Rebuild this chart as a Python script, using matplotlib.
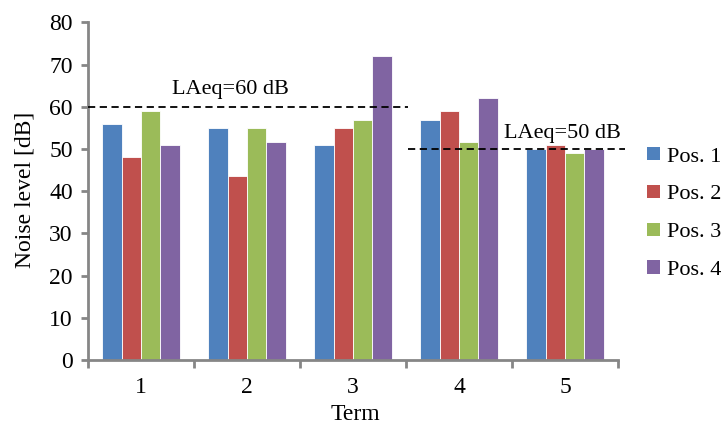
import matplotlib
matplotlib.use("Agg")
import matplotlib.pyplot as plt
import numpy as np
from matplotlib.patches import Patch

terms = ["1", "2", "3", "4", "5"]
series = ["Pos. 1", "Pos. 2", "Pos. 3", "Pos. 4"]
pos1 = [56, 55, 51, 57, 50]
pos2 = [48, 43.7, 55, 59, 51]
pos3 = [59, 55, 57, 51.7, 49]
pos4 = [51, 51.7, 72, 62, 50]
colors = ["#4F81BD", "#C0504D", "#9BBB59", "#8064A2"]
limit_labels = ["LAeq=60 dB", "LAeq=50 dB"]
limit_values = [60, 50]

plt.rcParams['font.family'] = ['Liberation Serif', 'DejaVu Serif']

fig = plt.figure(figsize=(7.25, 4.24), dpi=100)
ax = fig.add_axes([0.1214, 0.151, 0.731, 0.796])

x = np.arange(len(terms))
w = 0.182
data = [pos1, pos2, pos3, pos4]
for i, (vals, c) in enumerate(zip(data, colors)):
    ax.bar(x + (i - 1.5) * w, vals, width=w, color=c, edgecolor="white", linewidth=0.6, zorder=2)

# limit lines
ax.plot([-0.5, 2.52], [limit_values[0]] * 2, color="black", linestyle=(0, (4, 2.5)), linewidth=1.3, zorder=3, clip_on=False)
ax.plot([2.52, 4.57], [limit_values[1]] * 2, color="black", linestyle=(0, (4, 2.5)), linewidth=1.3, zorder=3, clip_on=False)
ax.text(0.84, 64.2, limit_labels[0], ha="center", va="center", fontsize=16)
ax.text(3.98, 53.8, limit_labels[1], ha="center", va="center", fontsize=16)

ax.set_xlim(-0.5, 4.5)
ax.set_ylim(0, 80)
ax.set_yticks(np.arange(0, 81, 10))
ax.set_xticks(np.arange(-0.5, 4.6, 1))
ax.set_xticklabels([])
ax.set_xticks(x, minor=True)
ax.set_xticklabels(terms, minor=True)
ax.tick_params(axis="x", which="minor", length=0, pad=12, labelsize=17)
ax.tick_params(axis="x", which="major", length=6, width=2, color="#868686", direction="out")
ax.tick_params(axis="y", length=5, width=2, color="#868686", direction="out", labelsize=17, pad=6)

for s in ["top", "right"]:
    ax.spines[s].set_visible(False)
for s in ["left", "bottom"]:
    ax.spines[s].set_color("#868686")
    ax.spines[s].set_linewidth(2)

fig.text(25 / 725, 1 - 190 / 424, "Noise level [dB]", rotation=90, ha="center", va="center", fontsize=17)
fig.text(355 / 725, 1 - 414 / 424, "Term", ha="center", va="center", fontsize=17)

handles = [Patch(facecolor=c, edgecolor="none") for c in colors]
leg = fig.legend(handles, series, loc="center left", bbox_to_anchor=(0.893, 0.4965), frameon=False,
                 fontsize=16, handlelength=0.55, handleheight=0.55, handletextpad=0.35, labelspacing=0.82,
                 borderpad=0, borderaxespad=0)

fig.savefig("out.png", dpi=100)
